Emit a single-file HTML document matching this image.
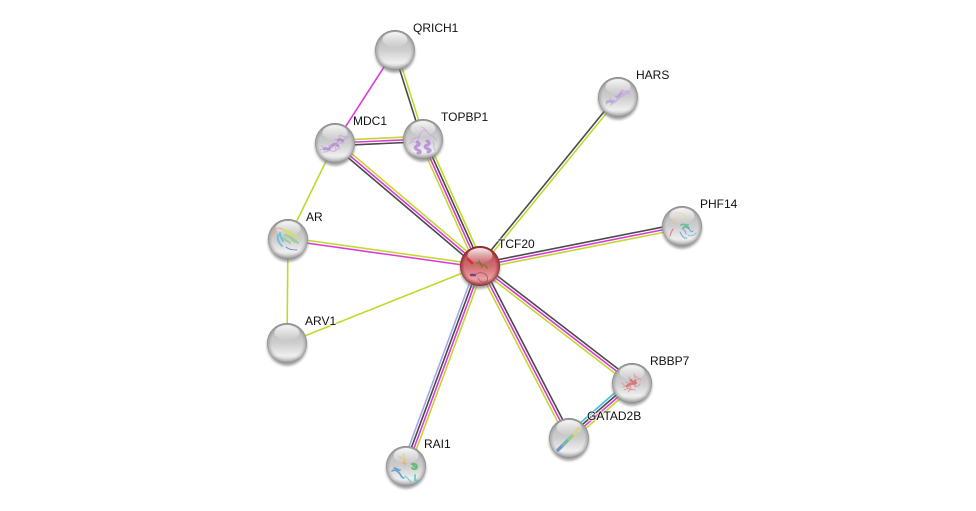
<!DOCTYPE html>
<html>
<head>
<meta charset="utf-8">
<style>
html,body{margin:0;padding:0;background:#fff;width:976px;height:511px;overflow:hidden}
svg{display:block}
text{font-family:"Liberation Sans",sans-serif;font-size:12px;fill:#111;paint-order:stroke;stroke:rgba(255,255,255,.6);stroke-width:2px}
.y{stroke:#c3d82e}.m{stroke:#dc3bd6}.k{stroke:#4a4a4a}.b{stroke:#a6a6f0}.c{stroke:#3fbfdc}
line{stroke-width:1.6;fill:none}
.p{fill:none;stroke-linecap:round;stroke-linejoin:round;filter:url(#soft);opacity:.78}
</style>
</head>
<body>
<svg width="976" height="511" viewBox="0 0 976 511" xmlns="http://www.w3.org/2000/svg">
<defs>
<filter id="soft" x="-20%" y="-20%" width="140%" height="140%"><feGaussianBlur stdDeviation=".35"/></filter>
<filter id="blur" x="-20%" y="-20%" width="140%" height="140%"><feGaussianBlur stdDeviation="1.2"/></filter>
<linearGradient id="base" x1="0" y1="0" x2="0" y2="1">
<stop offset="0" stop-color="#b4b4b4"/>
<stop offset=".5" stop-color="#cdcdcd"/>
<stop offset=".82" stop-color="#efefef"/>
<stop offset="1" stop-color="#bdbdbd"/>
</linearGradient>
<linearGradient id="red" x1="0" y1="0" x2="0" y2="1">
<stop offset="0" stop-color="#b04448"/>
<stop offset=".5" stop-color="#d06c70"/>
<stop offset=".82" stop-color="#eea0a2"/>
<stop offset="1" stop-color="#c06064"/>
</linearGradient>
<radialGradient id="rim" cx="50%" cy="50%" r="50%">
<stop offset=".78" stop-color="#666" stop-opacity="0"/>
<stop offset=".94" stop-color="#666" stop-opacity=".32"/>
<stop offset="1" stop-color="#666" stop-opacity=".7"/>
</radialGradient>
<radialGradient id="rimr" cx="50%" cy="50%" r="50%">
<stop offset=".78" stop-color="#701015" stop-opacity="0"/>
<stop offset=".94" stop-color="#701015" stop-opacity=".45"/>
<stop offset="1" stop-color="#701015" stop-opacity=".8"/>
</radialGradient>
<linearGradient id="hl" x1="0" y1="0" x2="0" y2="1">
<stop offset="0" stop-color="#fff" stop-opacity=".9"/>
<stop offset="1" stop-color="#fff" stop-opacity=".05"/>
</linearGradient>
<g id="ball">
<circle cx="0" cy="2.6" r="20" fill="#777" opacity=".7" filter="url(#blur)"/>
<circle r="20" fill="url(#base)"/>
<circle r="20" fill="url(#rim)"/>
<ellipse cy="-10.5" rx="12.5" ry="7.5" fill="url(#hl)"/>
</g>
<g id="ballr">
<circle cx="0" cy="2.6" r="20" fill="#777" opacity=".7" filter="url(#blur)"/>
<circle r="20" fill="url(#red)"/>
<circle r="20" fill="url(#rimr)"/>
<ellipse cy="-10.5" rx="12.5" ry="7.5" fill="url(#hl)"/>
</g>
</defs>

<!-- edges from TCF20 -->
<g transform="translate(480 266) rotate(-114.2)">
<line x2="139" y1="-3.9" y2="-3.9" class="y"/><line x2="139" y1="-1.3" y2="-1.3" class="m"/><line x2="139" y1="1.3" y2="1.3" class="k"/><line x2="139" y1="3.9" y2="3.9" class="y"/>
</g>
<g transform="translate(480 266) rotate(-139.7)">
<line x2="190" y1="2.7" y2="2.7" class="y"/><line x2="190" class="m"/><line x2="190" y1="-2.7" y2="-2.7" class="k"/>
</g>
<g transform="translate(480 266) rotate(-172)">
<line x2="194" y1="1.4" y2="1.4" class="y"/><line x2="194" y1="-1.4" y2="-1.4" class="m"/>
</g>
<line x1="480" y1="266" x2="287" y2="343" class="y"/>
<g transform="translate(480 266) rotate(-50.8)">
<line x2="218" y1="-1.4" y2="-1.4" class="k"/><line x2="218" y1="1.4" y2="1.4" class="y"/>
</g>
<g transform="translate(480 266) rotate(-11.2)">
<line x2="206" y1="-2.7" y2="-2.7" class="k"/><line x2="206" class="m"/><line x2="206" y1="2.7" y2="2.7" class="y"/>
</g>
<g transform="translate(480 266) rotate(37.6)">
<line x2="192" y1="-2.7" y2="-2.7" class="k"/><line x2="192" class="m"/><line x2="192" y1="2.7" y2="2.7" class="y"/>
</g>
<g transform="translate(480 266) rotate(62.6)">
<line x2="194" y1="-2.7" y2="-2.7" class="k"/><line x2="194" class="m"/><line x2="194" y1="2.7" y2="2.7" class="y"/>
</g>
<g transform="translate(480 266) rotate(110.3)">
<line x2="213" y1="3.9" y2="3.9" class="b"/><line x2="213" y1="1.3" y2="1.3" class="k"/><line x2="213" y1="-1.3" y2="-1.3" class="m"/><line x2="213" y1="-3.9" y2="-3.9" class="y"/>
</g>
<!-- other edges -->
<g transform="translate(395 50) rotate(72.5)">
<line x2="93" y1="1.4" y2="1.4" class="k"/><line x2="93" y1="-1.4" y2="-1.4" class="y"/>
</g>
<line x1="395" y1="50" x2="335" y2="143" class="m"/>
<g transform="translate(335 143) rotate(-2.6)">
<line x2="88" y1="-2.7" y2="-2.7" class="y"/><line x2="88" class="m"/><line x2="88" y1="2.7" y2="2.7" class="k"/>
</g>
<line x1="335" y1="143" x2="288" y2="239" class="y"/>
<line x1="288" y1="239" x2="287" y2="343" class="y"/>
<g transform="translate(632 383) rotate(138.9)">
<line x2="84" y1="3.9" y2="3.9" class="c"/><line x2="84" y1="1.3" y2="1.3" class="k"/><line x2="84" y1="-1.3" y2="-1.3" class="m"/><line x2="84" y1="-3.9" y2="-3.9" class="y"/>
</g>

<!-- nodes -->
<use href="#ball" x="395" y="50"/>

<use href="#ball" x="335" y="143"/>
<g transform="translate(335 143)" class="p" stroke="#c4a4e2" stroke-width="1">
<path d="M-15 7c3-3 5 2 8-1s2-5 6-5 4-4 8-4 3-4 7-3M-12 9c4 1 6-3 9-1s5-3 8-3M-1 0l2 7M4-7l3 6M-14 3c3 1 4 3 7 2M-8 9c1-3 3-4 2-7M5-8c2 2 6 1 8 3M0-4c3 2 4 5 8 4"/>
<path d="M-11 6c2-2 4 2 6-1M-3 3c2-3 5-2 6 0M3-3c2-1 4 0 5 1" stroke-width="2.6" stroke="#b184d2"/>
</g>

<use href="#ball" x="423" y="139"/>
<g transform="translate(423 139)" class="p" stroke="#c4a4e2" stroke-width=".9">
<path d="M-12 2c3-4 5-2 7-4s3-6 6-7 3 3 5 4 5 2 7 6M-3-3c-3 3-1 6-4 9M6 0c-2 3 1 6-1 9M-14 5c2-3 4-1 5-3M-2-12c3 1 5 2 5 5M10 3c2 3 0 6 2 8"/>
<path d="M-6 3c3 1 3 3 0 4s-2 3 1 4 3 3 0 3M4 2c3 1 3 3 0 4s-2 3 1 4 3 2 0 3" stroke-width="3" stroke="#b184d2"/>
</g>

<use href="#ball" x="618" y="97"/>
<g transform="translate(618 97)" class="p" stroke="#c4a8e0" stroke-width="1.3">
<path d="M-11 5c3-2 5 3 8 0s3-3 6-5 4-3 6-5M3-6l3 4M10-6l1 3M-8 1l2 6M-12 7c2-3 5-4 7-3M-3-1c2 2 4 1 5 0M4-7c2 2 3 2 5 1M-7 8c1-2 3-3 5-5"/>
<path d="M-11 5c2-2 4 1 6-1M-1 0c2-1 3-2 4-4" stroke-width="2.6" stroke="#b69ad8"/>
</g>

<use href="#ball" x="682" y="226"/>
<g transform="translate(682 226)" class="p" stroke-width=".9">
<path d="M-7-13c3 1 5-2 7 1s5 0 4 3M-3-8c2 1 4 1 6 0" stroke="#e3dd9a"/>
<path d="M-13-7c3-1 5 2 7 0M-10-4c2 1 3 0 4-1" stroke="#f0bf8c"/>
<path d="M-12 10c1-4 2-5 3-7" stroke="#d94f4f"/>
<path d="M-1-1c3-2 5 1 7 0M2 1c2-1 4 0 5 1" stroke="#4fc47a" stroke-width="1.8"/>
<path d="M0 3c2-3 5-2 7 0s2 4 4 2M-2 6c2 4 4 7 7 6M1 2c1 3 3 3 3 6" stroke="#4a8fd8"/>
<path d="M6 9c3 2 6 0 8-2" stroke="#4fc4c0"/>
</g>

<use href="#ball" x="288" y="239"/>
<g transform="translate(288 239)" class="p" stroke-width="1.2">
<path d="M-14-8c3-4 7-3 9-2M-16-3c1-3 3-4 5-5" stroke="#eaa488"/>
<path d="M-6-9c5 0 9 2 15 7M-3-8c3 4 6 3 6 5M2-7c3 4 5 3 6 5" stroke="#d7dc6a" stroke-width="2"/>
<path d="M-3-4c4 1 9 4 13 8M-4-1c2 4 5 3 6 5M2-2c2 4 4 3 5 5" stroke="#8bd08a" stroke-width="2"/>
<path d="M-10-4c-1 4 1 8 4 11M-8-6c0 4 2 6 3 8" stroke="#5cbcd8" stroke-width="2"/>
<path d="M-2 8c3 3 8 3 11 3" stroke="#5a6fd0" stroke-width=".9"/>
</g>

<use href="#ball" x="287" y="343"/>

<use href="#ball" x="632" y="383"/>
<g transform="translate(632 383)" class="p" stroke="#e28a8a" stroke-width=".9">
<path d="M-9 4c3-3 5 2 8-2s3-4 7-6M-6-1c3 3 5 0 8 3s4 1 6-1M-3-6c2 3 0 7 2 11M3-7c-1 4 2 7 0 11M-8 7c3-1 5-3 7-1M-10 0c3 3 6 6 9 7M2-9c1 4 5 3 7 6M-4 9c1-3 5-3 7-2"/>
<path d="M-5 3c3-3 6-2 9-3M-1-3c1 2 3 3 4 1" stroke="#dc6464" stroke-width="2.4"/>
</g>

<use href="#ball" x="569" y="438"/>
<g transform="translate(569 438)" class="p" stroke-width="3.4" stroke-dasharray="1.6 .8">
<path d="M-11 12l5-5" stroke="#4f7fc4"/>
<path d="M-6 7l6-6" stroke="#5aae9c"/>
<path d="M0 1l5-5" stroke="#8ec77c"/>
<path d="M5-4l5-6" stroke="#d9d48c"/>
</g>

<use href="#ball" x="406" y="466"/>
<g transform="translate(406 466)" class="p" stroke-width="1.1">
<path d="M-3-12c2 2 1 5 0 7M-7-9c2 0 3 1 4 2" stroke="#e8c68c" stroke-width="1.4"/>
<path d="M-1-6c-2 2 1 4 0 6M-4-3c2 1 3 1 4 0" stroke="#eea860"/>
<path d="M-14 5c3-2 6 0 8 3s2 4 4 4M-12 2c3 0 5 3 6 2" stroke="#3f8fd0" stroke-width="1.6"/>
<path d="M-1 10c3 2 4 4 6 6" stroke="#55c8c0"/>
<path d="M6-2c3-1 5 1 5 3s-3 3-5 1M7-1l3 3" stroke="#4db860" stroke-width="2"/>
<path d="M9 9l0 5 3 1" stroke="#55c8c0" stroke-width="2"/>
</g>

<use href="#ballr" x="480" y="266"/>
<g transform="translate(480 266)" class="p" stroke-width="1.2">
<path d="M-12-7l4 4" stroke="#d8202a" stroke-width="2.6"/>
<path d="M-3-3c3-1 3 2 6 2s3 2 4 3" stroke="#6c8a20" stroke-width="2.2"/>
<path d="M-9 9l4 0" stroke="#5a2a80" stroke-width="2.4"/>
<path d="M-5 9c3-3 7-3 10-1s4 7 0 8-6-2-7-4M-1-6c1 4 3 4 3 8" stroke="#8a4a6a" stroke-width=".8"/>
</g>

<!-- labels -->
<text x="413" y="32">QRICH1</text>
<text x="441" y="121">TOPBP1</text>
<text x="353" y="125">MDC1</text>
<text x="636" y="79">HARS</text>
<text x="700" y="208">PHF14</text>
<text x="306" y="221">AR</text>
<text x="305" y="325">ARV1</text>
<text x="498" y="248">TCF20</text>
<text x="650" y="365">RBBP7</text>
<text x="587" y="420">GATAD2B</text>
<text x="424" y="448">RAI1</text>
</svg>
</body>
</html>
